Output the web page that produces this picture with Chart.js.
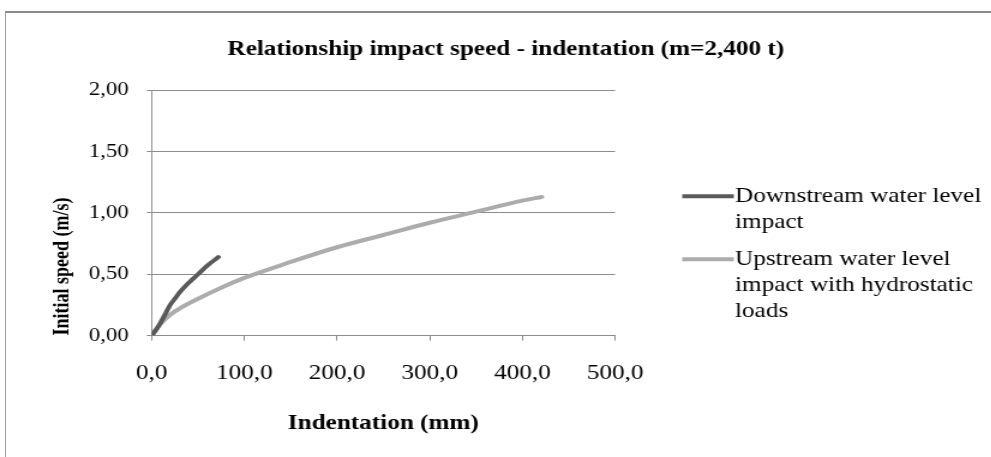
<!DOCTYPE html>
<html>
<head>
<meta charset="utf-8">
<script src="https://cdn.jsdelivr.net/npm/chart.js@4.4.1/dist/chart.umd.min.js"></script>
<style>
  html, body { margin: 0; padding: 0; background: #fff; }
  #wrap { position: relative; width: 991px; height: 457px; overflow: hidden; }
  #frame { position: absolute; left: 5px; top: 11px; width: 1200px; height: 800px;
           border-top: 2px solid #8c8c8c; border-left: 1px solid #9a9a9a; }
  /* the chart is laid out on a narrower canvas and widened to the full frame */
  #box { position: absolute; left: 0; top: 0; width: 826px; height: 457px;
         transform: scaleX(1.2); transform-origin: 0 0; }
</style>
</head>
<body>
<div id="wrap">
  <div id="frame"></div>
  <div id="box"><canvas id="c"></canvas></div>
</div>
<script>
// Indentation (mm) and initial speed (m/s) for each impact case
const downstreamIndent = [0, 5, 10, 15, 20, 25, 30, 40, 50, 60, 72];
const downstreamSpeed  = [0, 0.05, 0.11, 0.18, 0.25, 0.30, 0.35, 0.43, 0.50, 0.57, 0.64];

const upstreamIndent = [0, 10, 20, 30, 50, 75, 100, 150, 200, 250, 300, 350, 400, 421];
const upstreamSpeed  = [0, 0.10, 0.17, 0.22, 0.30, 0.39, 0.47, 0.60, 0.72, 0.82, 0.92, 1.01, 1.10, 1.13];

const seriesNames = [
  ['Downstream water level', 'impact'],
  ['Upstream water level', 'impact with hydrostatic', 'loads']
];

const xTicks = [0, 100, 200, 300, 400, 500];
const yTicks = [0, 0.5, 1.0, 1.5, 2.0];

const toPoints = (xs, ys) => xs.map((x, i) => ({ x: x, y: ys[i] }));
const comma = (v, d) => v.toFixed(d).replace('.', ',');

const serif = '"Liberation Serif", "Times New Roman", serif';

// Legend drawn in the reserved strip right of the plot area
const sideLegend = {
  id: 'sideLegend',
  afterDraw(chart, args, opts) {
    const { ctx, chartArea } = chart;
    const x0 = chartArea.right + opts.lineOffset;
    let y = chartArea.top + opts.topOffset;
    ctx.save();
    ctx.font = `${opts.fontSize}px ${serif}`;
    ctx.textBaseline = 'middle';
    ctx.textAlign = 'left';
    chart.data.datasets.forEach((ds) => {
      ctx.strokeStyle = ds.borderColor;
      ctx.lineWidth = opts.lineWidth;
      ctx.lineCap = 'butt';
      ctx.beginPath();
      ctx.moveTo(x0, y);
      ctx.lineTo(x0 + opts.lineLength, y);
      ctx.stroke();
      ctx.fillStyle = '#000';
      ds.label.forEach((line, i) => {
        ctx.fillText(line, x0 + opts.lineLength + opts.gap, y + i * opts.lineHeight);
      });
      y += ds.label.length * opts.lineHeight + opts.itemGap;
    });
    ctx.restore();
  }
};

new Chart(document.getElementById('c'), {
  type: 'line',
  data: {
    datasets: [
      {
        label: seriesNames[0],
        data: toPoints(downstreamIndent, downstreamSpeed),
        borderColor: '#5a5a5a',
        borderWidth: 4,
        borderCapStyle: 'round',
        pointRadius: 0,
        cubicInterpolationMode: 'monotone'
      },
      {
        label: seriesNames[1],
        data: toPoints(upstreamIndent, upstreamSpeed),
        borderColor: '#acacac',
        borderWidth: 4,
        borderCapStyle: 'round',
        pointRadius: 0,
        cubicInterpolationMode: 'monotone'
      }
    ]
  },
  plugins: [sideLegend],
  options: {
    responsive: true,
    maintainAspectRatio: false,
    animation: false,
    layout: { padding: { left: 17, right: 0, top: 0, bottom: 21 } },
    plugins: {
      title: {
        display: true,
        text: 'Relationship impact speed - indentation (m=2,400 t)',
        color: '#000',
        font: { family: serif, size: 21, weight: 'bold' },
        padding: { top: 37, bottom: 28 }
      },
      legend: { display: false },
      tooltip: { enabled: false },
      sideLegend: {
        lineOffset: 56,
        lineLength: 43,
        gap: 1,
        lineWidth: 4,
        topOffset: 106,
        lineHeight: 26,
        itemGap: 11,
        fontSize: 21
      }
    },
    scales: {
      x: {
        type: 'linear',
        min: 0,
        max: 500,
        afterBuildTicks: (axis) => { axis.ticks = xTicks.map(v => ({ value: v })); },
        grid: { drawOnChartArea: false, drawTicks: true, tickLength: 5, color: '#8c8c8c' },
        border: { color: '#8c8c8c', width: 1 },
        ticks: {
          color: '#000',
          padding: 20,
          maxRotation: 0,
          font: { family: serif, size: 21 },
          callback: (v) => comma(v, 1)
        },
        title: {
          display: true,
          text: 'Indentation (mm)',
          color: '#000',
          font: { family: serif, size: 21, weight: 'bold' },
          padding: { top: 5, bottom: 0 }
        }
      },
      y: {
        type: 'linear',
        min: 0,
        max: 2,
        afterBuildTicks: (axis) => { axis.ticks = yTicks.map(v => ({ value: v })); },
        grid: { drawOnChartArea: true, drawTicks: true, tickLength: 4, color: '#8c8c8c' },
        border: { color: '#8c8c8c', width: 1 },
        ticks: {
          color: '#000',
          padding: 15,
          font: { family: serif, size: 19 },
          callback: (v) => comma(v, 2)
        },
        title: {
          display: true,
          text: 'Initial speed (m/s)',
          align: 'start',
          color: '#000',
          font: { family: serif, size: 18, weight: 'bold' },
          padding: { top: 25, bottom: -4.5 }
        }
      },
      legendSpace: {
        type: 'linear',
        position: 'right',
        display: true,
        afterFit: (axis) => { axis.width = 313.5; },
        grid: { display: false, drawTicks: false },
        border: { display: false },
        ticks: { display: false }
      }
    }
  }
});
</script>
</body>
</html>
